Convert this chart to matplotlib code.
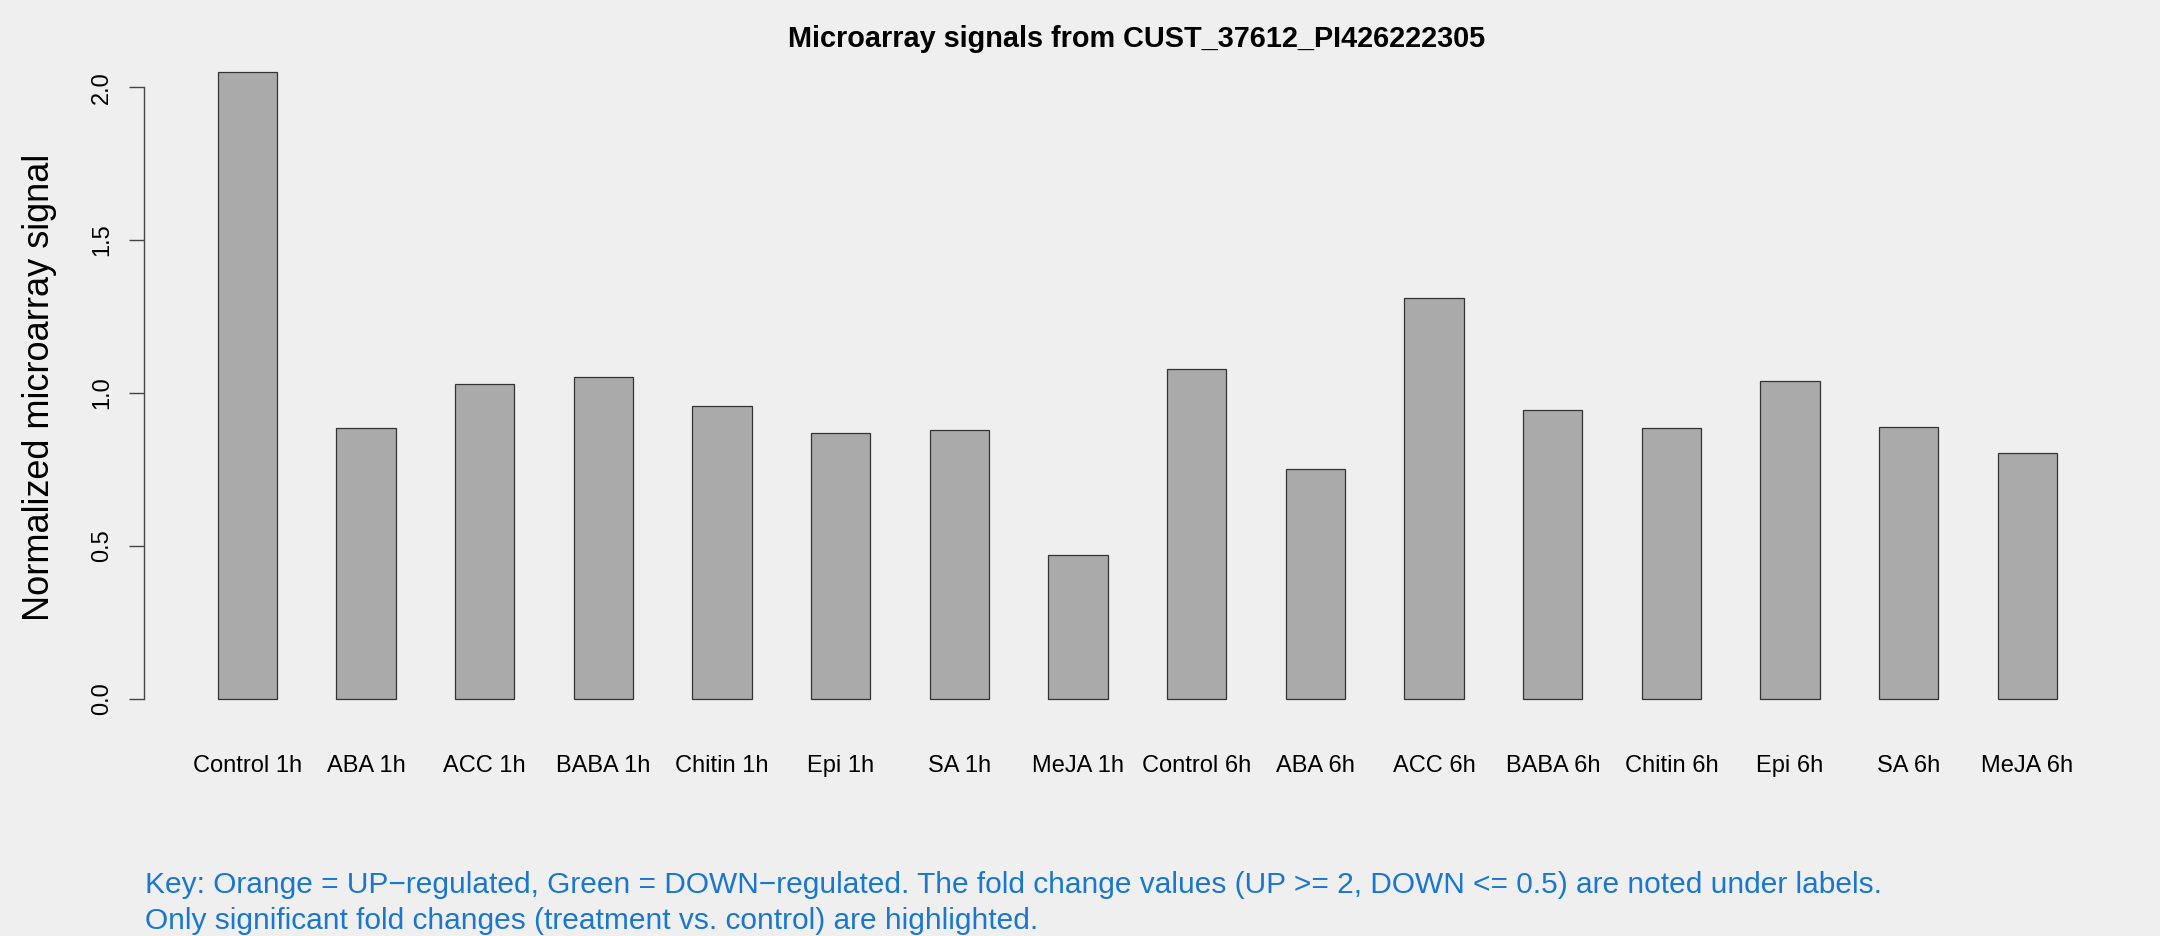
import numpy as np
import matplotlib
matplotlib.use("Agg")
import matplotlib.pyplot as plt

# values
labels = ["Control 1h", "ABA 1h", "ACC 1h", "BABA 1h", "Chitin 1h", "Epi 1h",
          "SA 1h", "MeJA 1h", "Control 6h", "ABA 6h", "ACC 6h", "BABA 6h",
          "Chitin 6h", "Epi 6h", "SA 6h", "MeJA 6h"]
signal = [2.050, 0.887, 1.030, 1.051, 0.958, 0.868, 0.880, 0.471,
          1.077, 0.751, 1.312, 0.946, 0.886, 1.041, 0.890, 0.803]
yticks = [0.0, 0.5, 1.0, 1.5, 2.0]

title = "Microarray signals from CUST_37612_PI426222305"
ylab = "Normalized microarray signal"
key_text = ("Key: Orange = UP\u2212regulated, Green = DOWN\u2212regulated. "
            "The fold change values (UP >= 2, DOWN <= 0.5) are noted under labels.\n"
            "Only significant fold changes (treatment vs. control) are highlighted.")

BG = "#efefef"
plt.rcParams['font.family'] = ['Liberation Sans', 'DejaVu Sans']

W, H = 2160, 936
fig = plt.figure(figsize=(W / 100, H / 100), dpi=100, facecolor=BG)
# plot region in pixels: left 144, right 2131, top 47, bottom 724
ax = fig.add_axes([144.2 / W, 1 - 724 / H, (2130.7 - 144.2) / W, (724 - 46.8) / H])
ax.set_facecolor(BG)

# R-style barplot: width 1, space 1
n = len(signal)
xpos = 1.5 + 2 * np.arange(n)
ax.bar(xpos, signal, width=1.0, color="#aaaaaa", edgecolor="#333333", linewidth=0.9)

span = 2 * n - 1
ax.set_xlim(1 - 0.04 * span, 2 * n + 0.04 * span)
ymax = max(signal)
ax.set_ylim(-0.04 * ymax, 1.04 * ymax)

for s in ["top", "right", "bottom"]:
    ax.spines[s].set_visible(False)
ax.spines["left"].set_bounds(0, 2)
ax.spines["left"].set_color("#444444")
ax.spines["left"].set_linewidth(1.0)

ax.set_yticks(yticks)
ax.set_yticklabels(["%.1f" % v for v in yticks], rotation=90, va="center",
                   fontsize=17)
ax.tick_params(axis="y", length=10.5, width=1.0, color="#444444", pad=12)
ax.set_xticks([])

# category labels under the bars
for x, lab in zip(xpos, labels):
    fig.text(ax.transData.transform((x, 0))[0] / W, 1 - 766 / H, lab,
             fontsize=17, ha="center", va="center")

fig.text(40 / W, 1 - 387 / H, ylab, rotation=90, fontsize=26,
         ha="center", va="center")
fig.text(1137 / W, 1 - 39 / H, title, fontsize=20.8, fontweight="bold",
         ha="center", va="center")
fig.text(144.6 / W, 1 - 903 / H, key_text, fontsize=21.5, color="#1976d2",
         ha="left", va="center", linespacing=1.32)

fig.savefig("out.png", dpi=100, facecolor=BG)
